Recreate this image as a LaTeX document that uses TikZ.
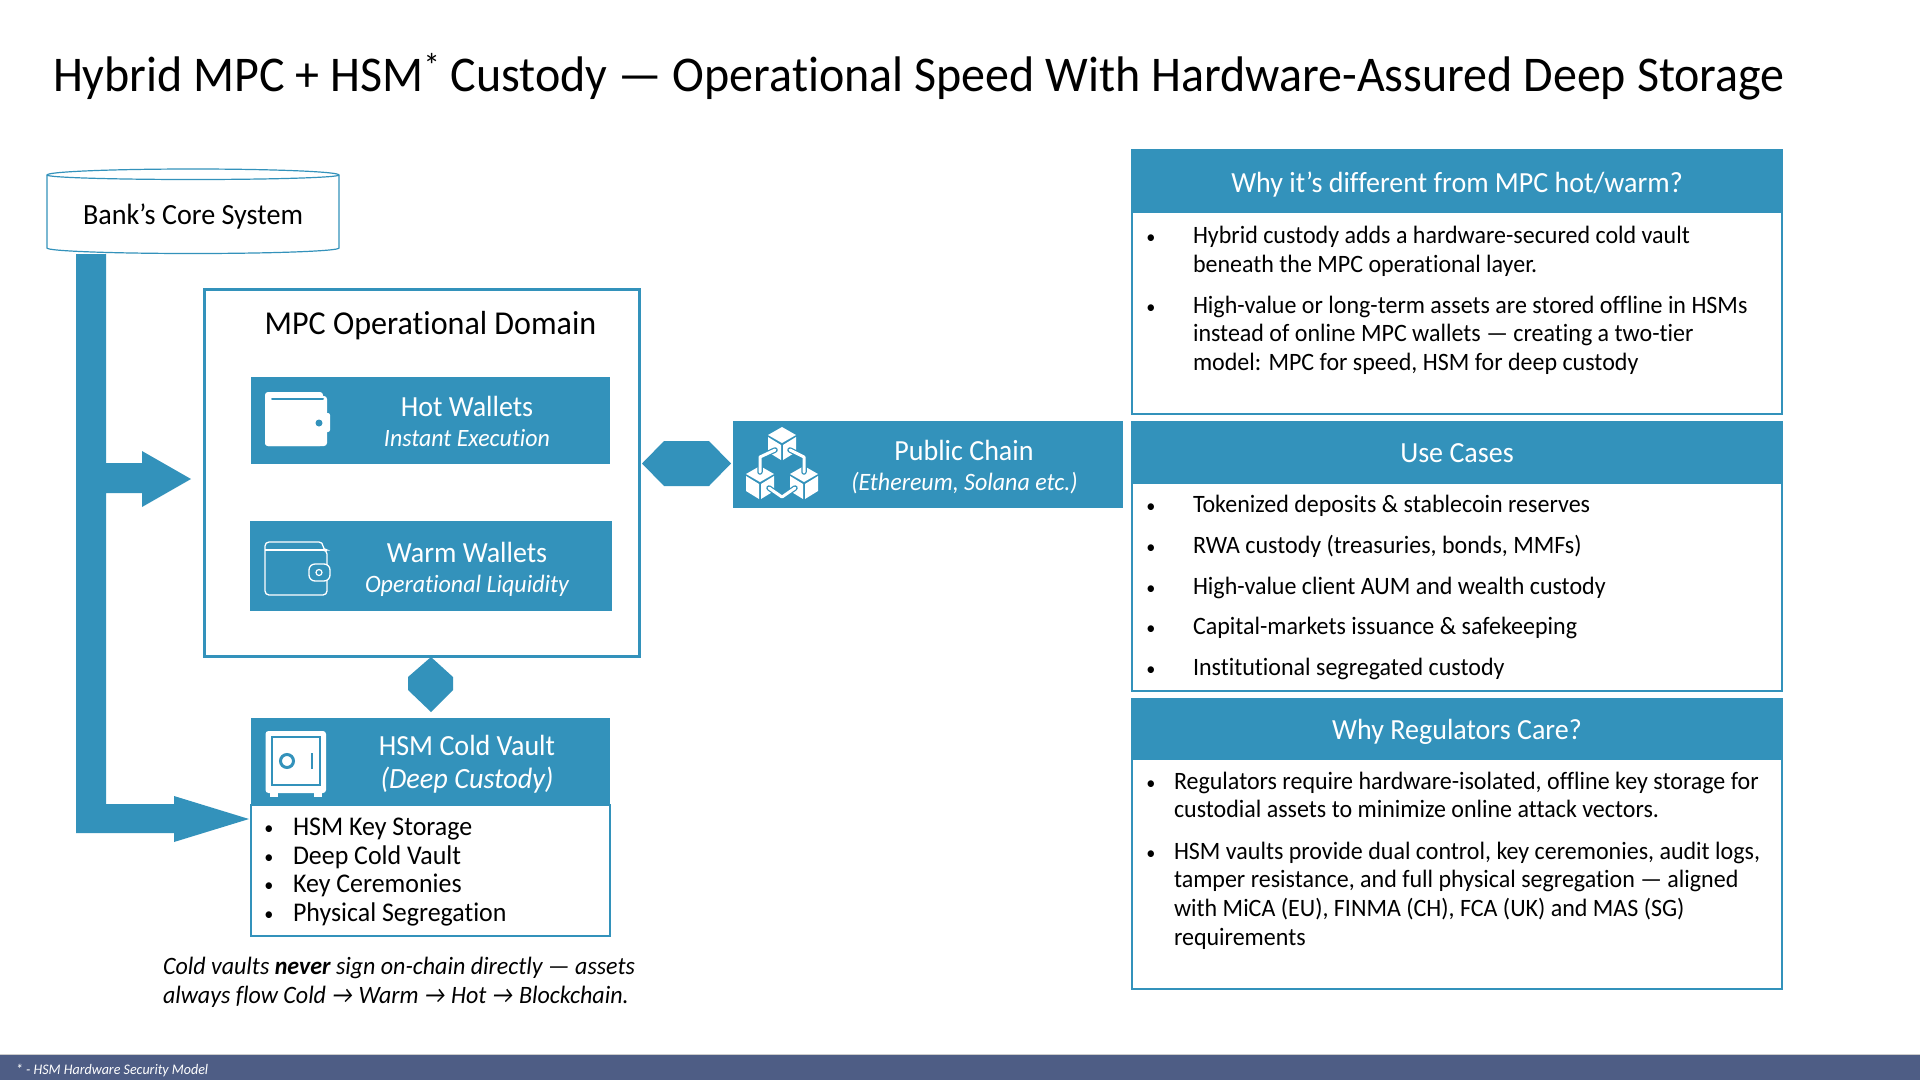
\documentclass[tikz,border=0pt]{standalone}
\usepackage{fontspec}
\setmainfont{Carlito}[FakeStretch=0.96,Ligatures=NoCommon]
\definecolor{mainblue}{HTML}{3392BB}
\definecolor{footblue}{HTML}{4E5D85}
\newcommand{\bodyfont}{\fontsize{25}{28}\selectfont}
\begin{document}
\begin{tikzpicture}[x=1pt,y=-1pt,
  lab/.style={inner sep=0pt,outer sep=0pt,align=center},
  wlab/.style={lab,text=white},
  blab/.style={lab,text=black},
  left lab/.style={inner sep=0pt,outer sep=0pt,anchor=base west,text=black,font=\bodyfont},
  list lab/.style={left lab,font=\fontsize{27}{30}\selectfont},
  bul/.style={inner sep=0pt,outer sep=0pt,anchor=base,text=black,font=\fontsize{19}{20}\selectfont},
  fillbox/.style={fill=mainblue,draw=none},
  thinbox/.style={fill=white,draw=mainblue,line width=1.5pt},
  thickbox/.style={fill=white,draw=mainblue,line width=3pt},
  flow/.style={fill=mainblue,draw=none},
  iconw/.style={fill=white,draw=none},
  iconl/.style={draw=white,line width=1.3pt,fill=none,rounded corners=4pt}
]
\useasboundingbox (0,0) rectangle (1920,1080);
\fill[white] (0,0) rectangle (1920,1080);
% title
\node[lab,anchor=base west,font=\fontsize{50}{52}\selectfont] (title) at (53,91) {Hybrid MPC + HSM\raisebox{14pt}{\fontsize{34}{34}\selectfont *} Custody — Operational Speed With Hardware-Assured Deep Storage};
% cylinder
\draw[fill=white,draw=mainblue,line width=1.2pt] (47,175) -- (47,248) arc[start angle=180,end angle=0,x radius=146,y radius=5.5] -- (339,175) arc[start angle=0,end angle=-180,x radius=146,y radius=6] -- cycle;
\draw[draw=mainblue,line width=1.2pt] (47,175) arc[start angle=180,end angle=0,x radius=146,y radius=4.5];
\node[blab,font=\fontsize{29.3}{32}\selectfont] (core) at (193,217) {Bank’s Core System};
% flow
\fill[flow] (76,254) -- (106,254) -- (106,463) -- (142,463) -- (142,451) -- (191,479) -- (142,507) -- (142,493) -- (106,493) -- (106,804) -- (174,804) -- (174,796) -- (249,819) -- (174,842) -- (174,833) -- (76,833) -- cycle;
% MPC
\draw[thickbox] (204.5,289) rectangle (639,656);
\node[blab,font=\fontsize{33.4}{36}\selectfont] (mpc) at (430.5,326) {MPC Operational Domain};
% hot
\fill[fillbox] (251,377) rectangle (610,464);
\node[wlab,font=\fontsize{29.2}{32}\selectfont] (hot) at (467,406) {Hot Wallets};
\node[wlab,font=\itshape\fontsize{24.9}{28}\selectfont] (hots) at (467,438) {Instant Execution};
\fill[iconw,rounded corners=3pt] (265,392) rectangle (323,446);
\fill[iconw,rounded corners=3pt] (265,396) rectangle (327,446);
\fill[iconw,rounded corners=2pt] (315,413) rectangle (330,432);
\fill[mainblue] (319,423) circle (3.5);
\draw[mainblue,line width=2pt,line cap=round] (272,399) -- (323,399);
% warm
\fill[fillbox] (250,521) rectangle (612,611);
\node[wlab,font=\fontsize{29.2}{32}\selectfont] (warm) at (467,552) {Warm Wallets};
\node[wlab,font=\itshape\fontsize{25}{28}\selectfont] (warms) at (467,585.5) {Operational Liquidity};
\draw[iconl] (327,564) -- (327,595) -- (265,595) -- (265,542) -- (323,542) -- (323,550) -- (327,550) -- (327,564);
\draw[white,line width=1.3pt] (265,550) -- (327,550);
\draw[white,line width=1.3pt,fill=mainblue,rounded corners=6pt] (309,564) rectangle (330,581);
\draw[white,line width=1.2pt] (319,572.5) circle (3);
% hexagon
\fill[flow] (642,463.5) -- (664,441) -- (709,441) -- (731,463.5) -- (709,486) -- (664,486) -- cycle;
% public chain
\fill[fillbox] (733,421) rectangle (1123,508);
\node[wlab,font=\fontsize{29.2}{32}\selectfont] (chain) at (964,450) {Public Chain};
\node[wlab,font=\itshape\fontsize{25}{28}\selectfont] (chains) at (964.5,483) {(Ethereum, Solana etc.)};
% cube icon
\foreach \cx/\cy in {782/444,760/483,804/483}{
  \fill[white] (\cx,\cy-17) -- (\cx+14,\cy-9) -- (\cx,\cy-1) -- (\cx-14,\cy-9) -- cycle;
  \fill[white] (\cx-14,\cy-7) -- (\cx-1,\cy+1) -- (\cx-1,\cy+16) -- (\cx-14,\cy+8) -- cycle;
  \fill[white] (\cx+14,\cy-7) -- (\cx+1,\cy+1) -- (\cx+1,\cy+16) -- (\cx+14,\cy+8) -- cycle;
}
\foreach \w/\c in {5.5/mainblue,3/white}{
  \draw[\c,line width=\w pt,line cap=round,line join=round] (775,450) -- (760,457) -- (760,472);
  \draw[\c,line width=\w pt,line cap=round,line join=round] (790,450) -- (804,457) -- (804,472);
  \draw[\c,line width=\w pt,line cap=round,line join=round] (769,488) -- (782,497) -- (795,488);
}
% vertical hexagon
\fill[flow] (431,657) -- (453,677) -- (453,690) -- (431,712) -- (408,690) -- (408,677) -- cycle;
% HSM
\draw[thinbox] (251,805) rectangle (610,936);
\fill[fillbox] (251,718) rectangle (610,805);
\node[wlab,font=\fontsize{29.2}{32}\selectfont] (hsm) at (467,745) {HSM Cold Vault};
\node[wlab,font=\itshape\fontsize{29.4}{32}\selectfont] (hsms) at (467,780) {(Deep Custody)};
\fill[iconw,rounded corners=3pt] (265.5,731) rectangle (326,793);
\fill[iconw] (270,790) rectangle (278,797);
\fill[iconw] (314,790) rectangle (322,797);
\draw[mainblue,line width=2pt] (272,737) rectangle (320,785);
\draw[mainblue,line width=3pt] (287,761) circle (6.5);
\draw[mainblue,line width=2.5pt] (312,753) -- (312,769);
\node[bul] (b1) at (269,834) {•};
\node[bul] (b2) at (269,863) {•};
\node[bul] (b3) at (269,891) {•};
\node[bul] (b4) at (269,920) {•};
\node[list lab] (t1) at (293,835) {HSM Key Storage};
\node[list lab] (t2) at (293,864) {Deep Cold Vault};
\node[list lab] (t3) at (293,892) {Key Ceremonies};
\node[list lab] (t4) at (293,921) {Physical Segregation};
% note
\node[left lab,font=\itshape\bodyfont] (n1) at (163,974) {Cold vaults \textbf{never} sign on-chain directly — assets};
\node[left lab,font=\itshape\bodyfont] (n2) at (163,1003) {always flow Cold → Warm → Hot → Blockchain.};
% panel 1
\draw[thinbox] (1132,150) rectangle (1782,414);
\fill[fillbox] (1131.5,150) rectangle (1782.5,213);
\node[wlab,font=\fontsize{29.2}{32}\selectfont] (p1) at (1457,184.5) {Why it’s different from MPC hot/warm?};
\foreach \y in {243,313}{\node[bul] at (1151,\y) {•};}
\node[left lab] (a1) at (1193,243) {Hybrid custody adds a hardware-secured cold vault};
\node[left lab] (a2) at (1193,272) {beneath the MPC operational layer.};
\node[left lab] (a3) at (1193,313) {High-value or long-term assets are stored offline in HSMs};
\node[left lab] (a4) at (1193,341) {instead of online MPC wallets — creating a two-tier};
\node[left lab] (a5) at (1193,370) {model: MPC for speed, HSM for deep custody};
% panel 2
\draw[thinbox] (1132,422) rectangle (1782,691);
\fill[fillbox] (1131.5,422) rectangle (1782.5,484);
\node[wlab,font=\fontsize{29.2}{32}\selectfont] (p2) at (1457,453) {Use Cases};
\foreach \y in {512,553,594,634,675}{\node[bul] at (1151,\y) {•};}
\node[left lab] (c1) at (1193,512) {Tokenized deposits \& stablecoin reserves};
\node[left lab] (c2) at (1193,553) {RWA custody (treasuries, bonds, MMFs)};
\node[left lab] (c3) at (1193,594) {High-value client AUM and wealth custody};
\node[left lab] (c4) at (1193,634) {Capital-markets issuance \& safekeeping};
\node[left lab] (c5) at (1193,675) {Institutional segregated custody};
% panel 3
\draw[thinbox] (1132,699) rectangle (1782,989);
\fill[fillbox] (1131.5,699) rectangle (1782.5,760);
\node[wlab,font=\fontsize{29.2}{32}\selectfont] (p3) at (1457,732) {Why Regulators Care?};
\foreach \y in {789,859}{\node[bul] at (1151,\y) {•};}
\node[left lab] (r1) at (1174,789) {Regulators require hardware-isolated, offline key storage for};
\node[left lab] (r2) at (1174,817) {custodial assets to minimize online attack vectors.};
\node[left lab] (r3) at (1174,859) {HSM vaults provide dual control, key ceremonies, audit logs,};
\node[left lab] (r4) at (1174,887) {tamper resistance, and full physical segregation — aligned};
\node[left lab] (r5) at (1174,916) {with MiCA (EU), FINMA (CH), FCA (UK) and MAS (SG)};
\node[left lab] (r6) at (1174,945) {requirements};
% footer
\fill[footblue] (0,1055) rectangle (1920,1080);
\draw[black!20,line width=.8pt] (0,1054.6) -- (1920,1054.6);
\node[wlab,anchor=base west,font=\itshape\fontsize{14.6}{16}\selectfont] (foot) at (16,1074) {* - HSM Hardware Security Model};
\end{tikzpicture}
\end{document}
